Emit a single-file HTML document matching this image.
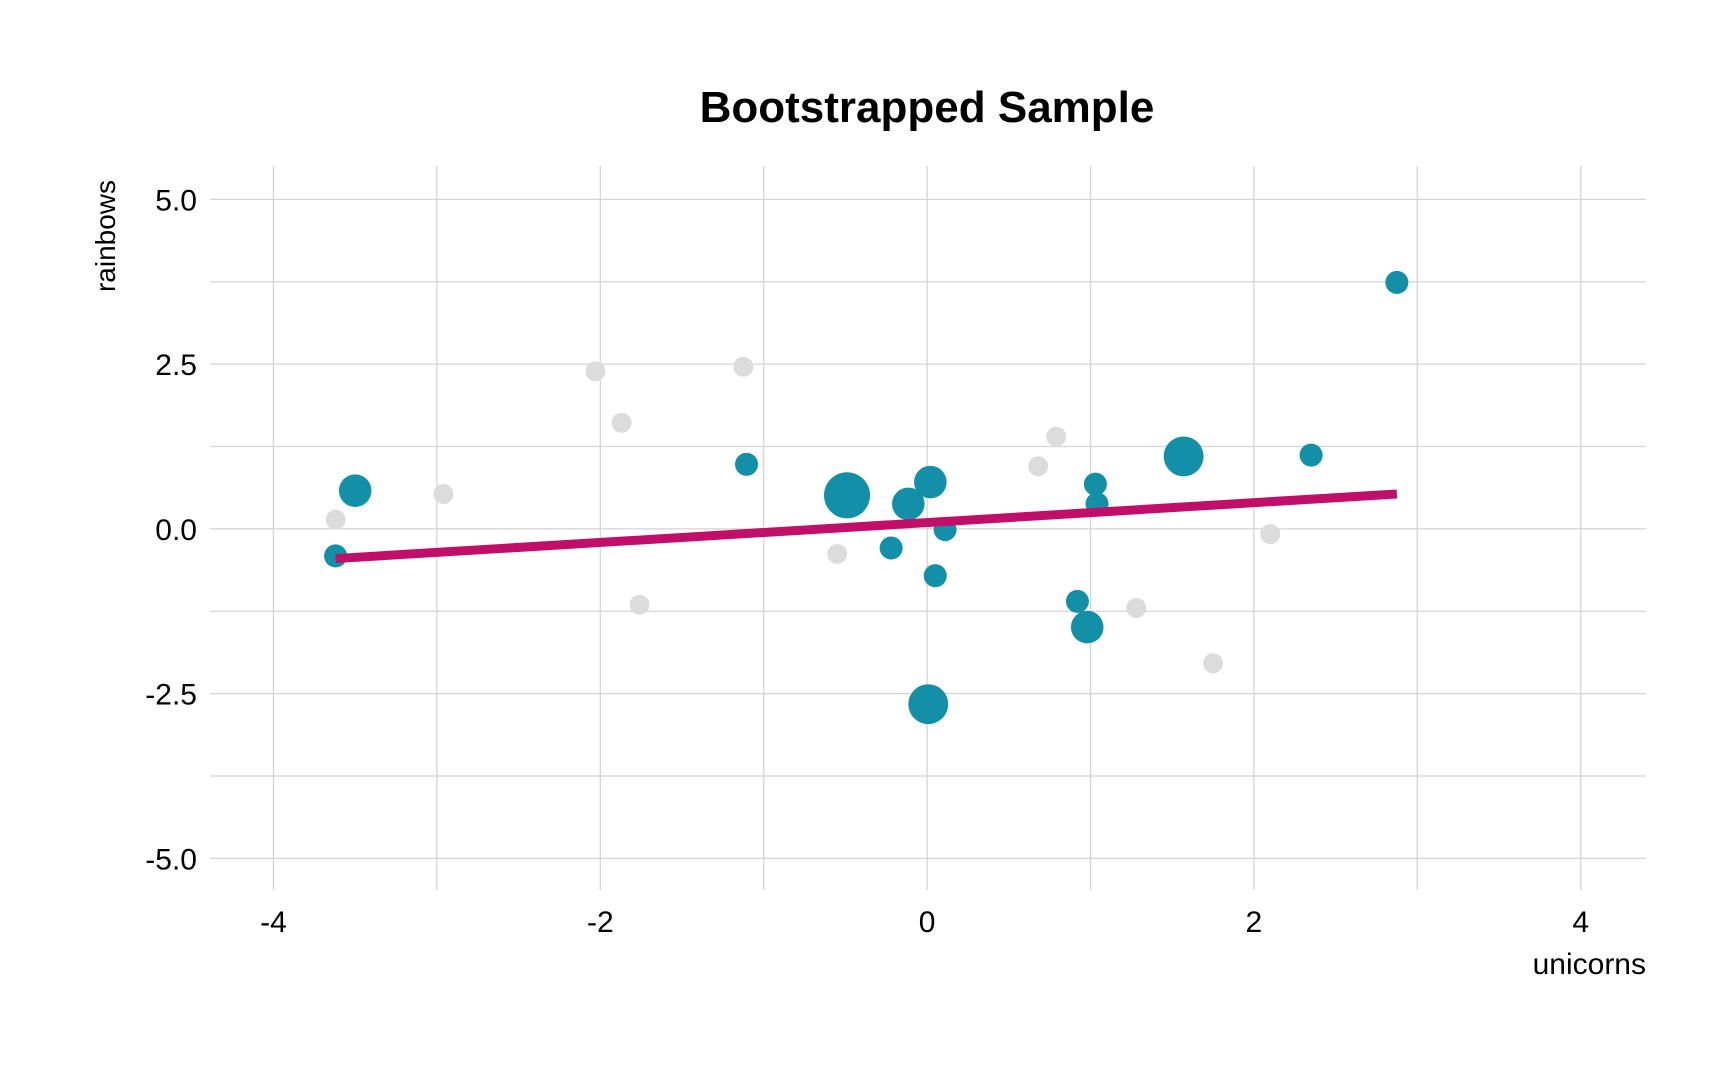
<!DOCTYPE html>
<html><head><meta charset="utf-8"><style>
html,body{margin:0;padding:0;background:#fff;}
svg text{font-family:"Liberation Sans",sans-serif;}
</style></head><body>
<svg id="c" width="1728" height="1067" xmlns="http://www.w3.org/2000/svg">
<rect width="1728" height="1067" fill="#fff"/>
<text x="927" y="122" text-anchor="middle" font-size="44" font-weight="bold" fill="#000">Bootstrapped Sample</text>
<g id="grid"></g><g id="marks"></g><g id="labels"></g>
<text x="0" y="0" transform="translate(115,236) rotate(-90)" text-anchor="middle" font-size="28" fill="#000">rainbows</text>
<text x="1646" y="974" text-anchor="end" font-size="30" fill="#000">unicorns</text>
</svg>
<script>
const xTicks=[-4,-2,0,2,4];
const xMinor=[-3,-1,1,3];
const yTicks=[5,2.5,0,-2.5,-5];
const yTickLabels=["5.0","2.5","0.0","-2.5","-5.0"];
const yMinor=[3.75,1.25,-1.25,-3.75];
const sampleX=[2.875,-3.62,-3.5,-1.105,-0.49,-0.115,0.02,0.11,-0.22,0.05,0.007,0.92,0.98,1.03,1.04,1.57,2.35];
const sampleY=[3.74,-0.41,0.58,0.98,0.51,0.38,0.71,-0.01,-0.29,-0.71,-2.66,-1.10,-1.49,0.68,0.38,1.10,1.12];
const sampleCount=[1,1,2,1,4,2,2,1,1,1,3,1,2,1,1,3,1];
const unusedX=[-3.62,-2.96,-2.03,-1.87,-1.76,-1.125,-0.55,0.68,0.79,1.28,1.75,2.10];
const unusedY=[0.14,0.53,2.39,1.61,-1.15,2.46,-0.38,0.95,1.40,-1.20,-2.04,-0.08];
const fitX=[-3.62,2.875];
const fitY=[-0.45,0.53];

const NS="http://www.w3.org/2000/svg";
const px=v=>927.1+v*163.4;
const py=v=>528.9-v*65.9;
const L=210,R=1646,T=166,B=890;
function mk(tag,a,parent){const e=document.createElementNS(NS,tag);for(const k in a)e.setAttribute(k,a[k]);document.getElementById(parent).appendChild(e);return e;}
yMinor.concat(yTicks).forEach(v=>{const e=mk('line',{x1:L,x2:R,y1:py(v),y2:py(v),stroke:'#d4d4d4','stroke-width':1.3},'grid');

});
xMinor.concat(xTicks).forEach(v=>{const e=mk('line',{x1:px(v),x2:px(v),y1:T,y2:B,stroke:'#d4d4d4','stroke-width':1.3},'grid');

});
xTicks.forEach(v=>{const e=mk('text',{x:px(v),y:932,'text-anchor':'middle','font-size':30,fill:'#000'},'labels');e.textContent=String(v);

});
yTicks.forEach((v,i)=>{const e=mk('text',{x:197,y:py(v)+11,'text-anchor':'end','font-size':30,fill:'#000'},'labels');e.textContent=yTickLabels[i];

});
unusedX.forEach((x,i)=>{const e=mk('circle',{cx:px(x),cy:py(unusedY[i]),r:10,fill:'#dcdcdc'},'marks');

});
sampleX.forEach((x,i)=>{const e=mk('circle',{cx:px(x),cy:py(sampleY[i]),r:12*Math.sqrt(sampleCount[i])*0.96,fill:'#138FA8'},'marks');

});
const fl=mk('line',{x1:px(fitX[0]),y1:py(fitY[0]),x2:px(fitX[1]),y2:py(fitY[1]),stroke:'#C10F69','stroke-width':9},'marks');


</script>
</body></html>
